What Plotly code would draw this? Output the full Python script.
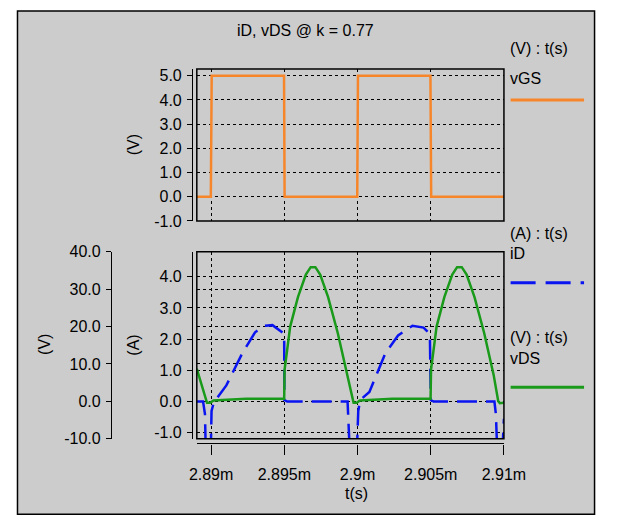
import plotly.graph_objects as go

W, H = 628, 527
FONT = "Liberation Sans, Arial, sans-serif"

# ---------------- data (time in ms, shown with "m" suffix) ----------------
t_vgs = [2.889023, 2.88998, 2.89004, 2.89498, 2.89502, 2.89998, 2.90003, 2.90498, 2.90503, 2.91]
vgs   = [0.0,      0.0,     5.0,     5.0,     0.0,     0.0,     5.0,     5.0,     0.0,     0.0]

t_id = [2.889023, 2.88945, 2.88958, 2.88970, 2.88992, 2.89003, 2.89020, 2.89030,
        2.89104, 2.89213, 2.89300, 2.89365, 2.89419, 2.89474, 2.89499, 2.895005,
        2.89520, 2.89932, 2.89940, 2.89960, 2.89985, 2.90005, 2.90018, 2.90081,
        2.90190, 2.90277, 2.90375, 2.90451, 2.90494, 2.905005, 2.90520, 2.90935,
        2.90945, 2.90965, 2.90985, 2.90990, 2.91]
i_d  = [0.0, 0.0, -0.4, -3.0, -3.0, -0.3, 0.0, 0.05,
        0.52, 1.55, 2.22, 2.43, 2.45, 2.27, 2.17, 0.05,
        0.0, 0.0, -0.5, -3.0, -3.0, -0.3, 0.05, 0.31,
        1.55, 2.12, 2.43, 2.37, 2.17, 0.05, 0.0, 0.0,
        -0.4, -3.0, -2.0, -1.5, -0.55]

t_vds = [2.889023, 2.88972, 2.88994, 2.89016, 2.89240, 2.89499, 2.89502, 2.89540,
         2.89593, 2.89647, 2.89680, 2.89712, 2.89745, 2.89799, 2.89865, 2.89930,
         2.89973, 2.89995, 2.90016, 2.90240, 2.90499, 2.90502, 2.90540, 2.90593,
         2.90647, 2.90680, 2.90712, 2.90745, 2.90799, 2.90865, 2.90930, 2.90961,
         2.90972, 2.91]
v_ds  = [8.7, -0.4, -0.4, 0.2, 0.7, 0.7, 8.5, 20.0,
         27.9, 33.9, 35.9, 35.9, 33.9, 27.9, 18.3, 7.0,
         -0.4, -0.4, 0.2, 0.7, 0.7, 8.5, 20.0, 27.9,
         33.9, 35.9, 35.9, 33.9, 27.9, 18.3, 7.0, 0.0,
         -0.5, -0.4]

x_tickvals = [2.89, 2.895, 2.9, 2.905, 2.91]
x_ticktext = ["2.89m", "2.895m", "2.9m", "2.905m", "2.91m"]
vgs_ticks = [-1, 0, 1, 2, 3, 4, 5]
id_ticks = [-1, 0, 1, 2, 3, 4]
vds_ticks = [-10, 0, 10, 20, 30, 40]

title_text = "iD, vDS @ k = 0.77"

ORANGE = "#f7862a"
BLUE = "#0a14f0"
GREEN = "#1a9a1a"
FS = 16

def px(x):
    return x / W

def py(y):
    return 1 - y / H

fig = go.Figure()
fig.add_trace(go.Scatter(x=t_vgs, y=vgs, mode="lines", xaxis="x", yaxis="y",
                         line=dict(color=ORANGE, width=2.5), showlegend=False))
fig.add_trace(go.Scatter(x=t_id, y=i_d, mode="lines", xaxis="x2", yaxis="y2",
                         line=dict(color=BLUE, width=2.5, dash="20px,9px"), showlegend=False))
fig.add_trace(go.Scatter(x=t_vds, y=v_ds, mode="lines", xaxis="x2", yaxis="y3",
                         line=dict(color=GREEN, width=2.5), showlegend=False))

xdom = [px(199), px(521)]
xr = [2.889023, 2.91]
grid = dict(showgrid=True, gridcolor="black", griddash="dot", gridwidth=1, zeroline=False)
tickfont = dict(family=FONT, size=FS, color="black")
yax = dict(showline=True, linecolor="black", linewidth=1.2, ticks="outside",
           ticklen=5, tickcolor="black", tickfont=tickfont, ticklabelstandoff=2)

fig.update_layout(
    width=W, height=H, autosize=False,
    margin=dict(l=0, r=0, t=0, b=0),
    paper_bgcolor="white", plot_bgcolor="white",
    font=dict(family=FONT, size=FS, color="black"),
    xaxis=dict(domain=xdom, range=xr, anchor="y", showticklabels=False, ticks="",
               tickvals=x_tickvals, showline=False, **grid),
    yaxis=dict(domain=[py(220), py(63)], range=[-1, 5.28], anchor="free", position=px(194),
               tickvals=vgs_ticks, ticktext=[f"{v:.1f}" for v in vgs_ticks], **yax, **grid),
    xaxis2=dict(domain=xdom, range=xr, anchor="free", position=py(450),
                tickvals=x_tickvals, ticktext=x_ticktext, showline=True, linecolor="black",
                linewidth=1.2, ticks="outside", ticklen=10, tickcolor="black",
                ticklabelstandoff=6, tickfont=tickfont, **grid),
    yaxis2=dict(domain=[py(445), py(252)], range=[-1.186, 4.797], anchor="free",
                position=px(194), tickvals=id_ticks,
                ticktext=[f"{v:.1f}" for v in id_ticks], **yax, **grid),
    yaxis3=dict(overlaying="y2", range=[-10, 40], anchor="free", position=px(109),
                side="left", tickvals=vds_ticks,
                ticktext=[f"{v:.1f}" for v in vds_ticks], **yax, **grid),
)

shapes = [
    # outer gray panel
    dict(type="rect", xref="paper", yref="paper", x0=px(11), x1=px(616), y0=py(523), y1=py(3),
         line=dict(color="black", width=1.5), fillcolor="#cccccc", layer="below"),
    # plot frames
    dict(type="rect", xref="x domain", yref="y domain", x0=0, x1=1, y0=0, y1=1,
         line=dict(color="black", width=1.5)),
    dict(type="rect", xref="x2 domain", yref="y2 domain", x0=0, x1=1, y0=0, y1=1,
         line=dict(color="black", width=1.5)),
    # legend samples
    dict(type="line", xref="paper", yref="paper", x0=px(528), x1=px(605), y0=py(95), y1=py(95),
         line=dict(color=ORANGE, width=3)),
    dict(type="line", xref="paper", yref="paper", x0=px(528), x1=px(605), y0=py(284), y1=py(284),
         line=dict(color=BLUE, width=3, dash="25px,10px")),
    dict(type="line", xref="paper", yref="paper", x0=px(528), x1=px(605), y0=py(392), y1=py(392),
         line=dict(color=GREEN, width=3)),
]
fig.update_layout(shapes=shapes)

def ann(text, x, y, xanchor="left", size=FS, angle=0):
    return dict(text=text, x=px(x), y=py(y), xref="paper", yref="paper", showarrow=False,
                xanchor=xanchor, yanchor="middle", textangle=angle,
                font=dict(family=FONT, size=size, color="black"))

annotations = [
    ann(title_text, 313, 23, "center"),
    ann("(V) : t(s)", 525, 42, "left"),
    ann("vGS", 525, 73, "left"),
    ann("(A) : t(s)", 525, 233, "left"),
    ann("iD", 525, 254, "left"),
    ann("(V) : t(s)", 525, 340, "left"),
    ann("vDS", 525, 362, "left"),
    ann("(V)", 133, 141, "center", FS, -90),
    ann("(A)", 133, 348, "center", FS, -90),
    ann("(V)", 40, 348, "center", FS, -90),
    ann("t(s)", 366, 502, "center"),
]
fig.update_layout(annotations=annotations)

fig.write_html("out.html", config={"displayModeBar": False},
               post_script="document.body.style.margin='0px';document.body.style.overflow='hidden';")
